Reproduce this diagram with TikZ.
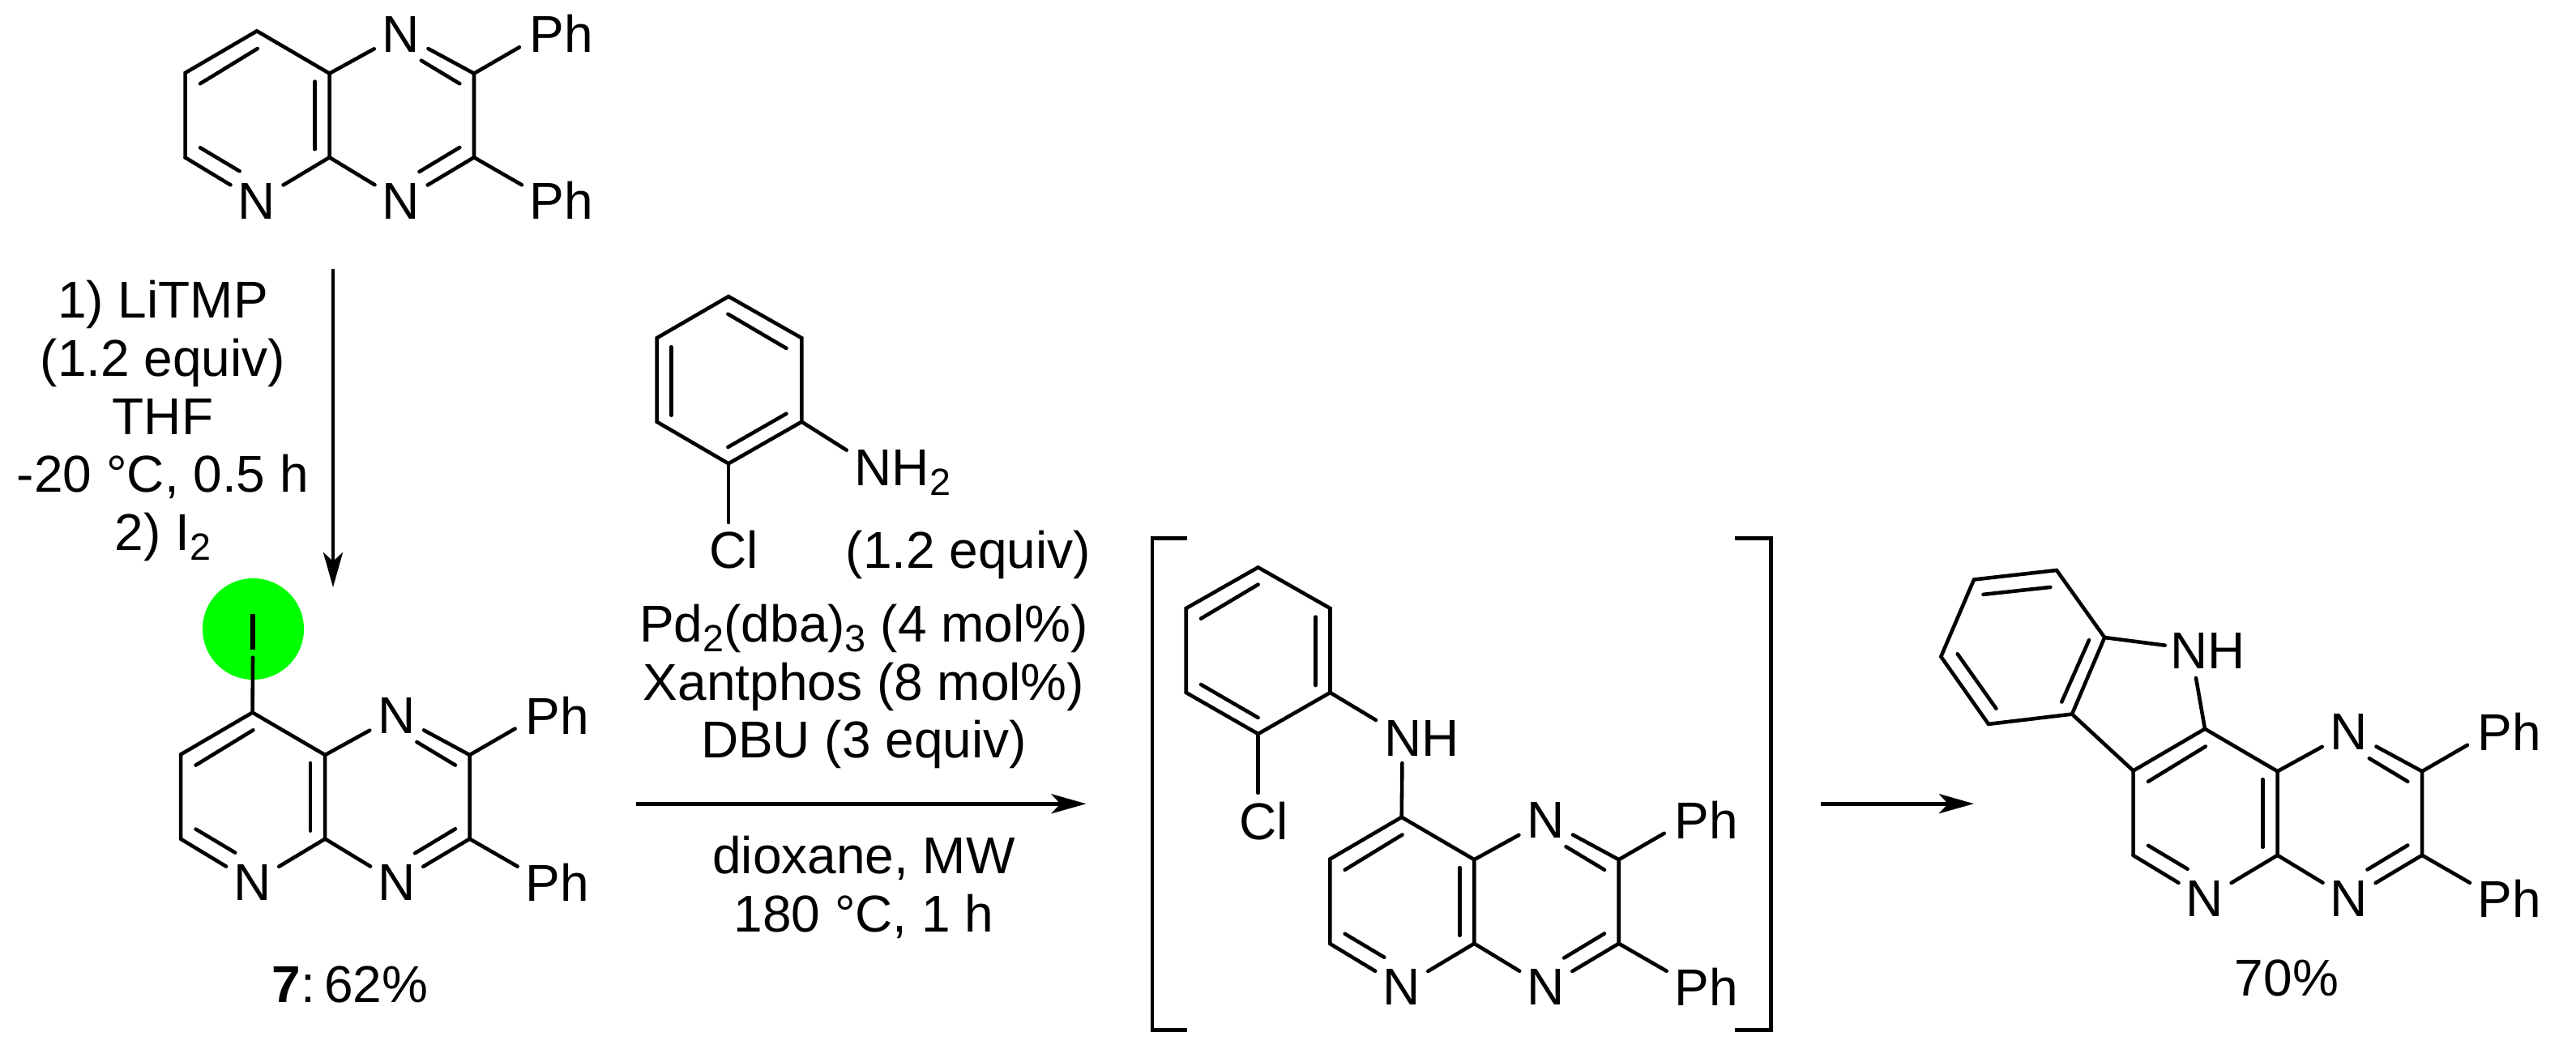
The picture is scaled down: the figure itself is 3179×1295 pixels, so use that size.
\documentclass[tikz,border=0pt]{standalone}
\usepackage{fontspec}
\setmainfont{Liberation Sans}
\usetikzlibrary{arrows.meta}

\definecolor{halo}{RGB}{0,255,0}
\newcommand{\lowtwo}[1]{\raisebox{-0.19em}{\fontsize{13.3}{13.3}\selectfont #1}}

% pyridopyrazine core, #1 = name prefix, (#2,#3) = shift
\newcommand{\pyrcore}[3]{
  \begin{scope}[shift={(#2,#3)}]
    \coordinate (#1c1) at (317,38.3);
    \coordinate (#1c2) at (228.6,90);
    \coordinate (#1c3) at (228.6,194.5);
    \coordinate (#1c4) at (406.6,194.3);
    \coordinate (#1c5) at (406.6,90.7);
    \coordinate (#1c6) at (585,90.7);
    \coordinate (#1c7) at (585,194.3);
    \coordinate (#1e1) at (641,58.3);
    \coordinate (#1e2) at (644,228.3);
    \node[atom] (#1n1) at (317,248) {N};
    \node[atom] (#1n2) at (495,248) {N};
    \node[atom] (#1n3) at (495,42) {N};
    \node[txt, anchor=base west] (#1ph1) at (653,65) {Ph};
    \node[txt, anchor=base west] (#1ph2) at (653,270.7) {Ph};
    % ring bonds
    \draw[bond] (#1c3) -- (#1c2) -- (#1c1) -- (#1c5) -- (#1c4);
    \draw[bond] (#1c3) -- (#1n1);
    \draw[bond] (#1c4) -- (#1n1);
    \draw[bond] (#1c5) -- (#1n3);
    \draw[bond] (#1c4) -- (#1n2);
    \draw[bond] (#1n3) -- (#1c6) -- (#1c7) -- (#1n2);
    \draw[bond] (#1c6) -- (#1e1);
    \draw[bond] (#1c7) -- (#1e2);
    % inner lines of the double bonds
    \draw[bond] (247,103.3) -- (317.8,60);
    \draw[bond] (247,182.3) -- (295.6,211.3);
    \draw[bond] (388.6,100.7) -- (388.6,184.3);
    \draw[bond] (519.8,74.7) -- (567.3,103.3);
    \draw[bond] (567.3,182) -- (517.5,212);
  \end{scope}
}

\begin{document}
\begin{tikzpicture}[
  x=0.01cm,
  y=-0.01cm,
  txt/.style={
    font=\fontsize{18.2}{20.37}\selectfont,
    inner sep=0pt,
    anchor=base
  },
  atom/.style={
    circle,
    font=\fontsize{18.2}{20.37}\selectfont,
    inner sep=0pt,
    outer sep=0pt,
    minimum size=0.76cm
  },
  bond/.style={
    line width=1.3pt,
    line cap=round,
    line join=miter
  },
  rxn/.style={
    line width=1.4pt,
    -{Stealth[length=0.43cm,width=0.24cm,inset=0.11cm]}
  },
  brk/.style={
    line width=1.3pt
  }
]
\useasboundingbox (0,0) rectangle (3179,1295);

% Starting material
\pyrcore{a}{0}{0}

% First arrow and conditions
\coordinate (a1s) at (411,332);
\coordinate (a1e) at (411,725);
\draw[rxn] (a1s) -- (a1e);
\node[txt, align=center] (cond1) at (201,679.3) {1) LiTMP\\(1.2 equiv)\\THF\\-20 °C, 0.5 h\\2) I\lowtwo{2}};

% Iodide 7
\node[circle, fill=halo, minimum size=1.25cm, inner sep=0pt] (spot) at (312.5,776.5) {};
\pyrcore{b}{-5.4}{841.3}
\node[txt] (iod) at (312,802.7) {I};
\coordinate (ibond) at (312,811.7);
\draw[bond] (bc1) -- (ibond);
\node[txt] (yield7) at (432,1237.3) {\textbf{7}:\hspace{0.17em}62\%};

% Chloroaniline
\coordinate (r1) at (899,366);
\coordinate (r2) at (989.3,417.3);
\coordinate (r3) at (989.3,520.7);
\coordinate (r4) at (899,572.3);
\coordinate (r5) at (810.6,520.7);
\coordinate (r6) at (810.6,417.3);
\coordinate (rn) at (1044.7,555.7);
\coordinate (rcl) at (899,645);
\draw[bond] (r1) -- (r2) -- (r3) -- (r4) -- (r5) -- (r6) -- cycle;
\draw[bond] (r3) -- (rn);
\draw[bond] (r4) -- (rcl);
\draw[bond] (898.4,387.7) -- (970.4,430);
\draw[bond] (828.4,428.3) -- (828.4,512.7);
\draw[bond] (970.4,510.7) -- (898.4,552);
\node[txt, anchor=base west] (nh2) at (1054,599.3) {NH\lowtwo{2}};
\node[txt] (cl1) at (905.7,701.7) {Cl};
\node[txt] (equiv) at (1195,701.7) {(1.2 equiv)};

% Second arrow and conditions
\node[txt, align=center] (cond2) at (1066,935.7) {Pd\lowtwo{2}(dba)\lowtwo{3} (4 mol\%)\\Xantphos (8 mol\%)\\DBU (3 equiv)};
\coordinate (a2s) at (785,992.3);
\coordinate (a2e) at (1340.5,992.3);
\draw[rxn] (a2s) -- (a2e);
\node[txt, align=center] (cond3) at (1066,1150) {dioxane, MW\\180 °C, 1 h};

% Intermediate in brackets
\draw[brk] (1465,664.5) -- (1421.8,664.5) -- (1421.8,1271.4) -- (1465,1271.4);
\draw[brk] (2141,664.5) -- (2185.4,664.5) -- (2185.4,1271.4) -- (2141,1271.4);
\pyrcore{c}{1412.7}{970.5}
\coordinate (s1) at (1552.6,700.4);
\coordinate (s2) at (1641.5,751);
\coordinate (s3) at (1641.5,855);
\coordinate (s4) at (1552.6,906);
\coordinate (s5) at (1463.7,855);
\coordinate (s6) at (1463.7,751);
\coordinate (sn) at (1698,889);
\coordinate (scl) at (1552.6,978.8);
\coordinate (cn) at (1730.4,942);
\draw[bond] (s1) -- (s2) -- (s3) -- (s4) -- (s5) -- (s6) -- cycle;
\draw[bond] (s3) -- (sn);
\draw[bond] (s4) -- (scl);
\draw[bond] (cn) -- (cc1);
\draw[bond] (1552.6,721.6) -- (1482,763.7);
\draw[bond] (1623.7,761.6) -- (1623.7,846);
\draw[bond] (1482,845) -- (1552.6,886);
\node[txt, anchor=base west] (nh3) at (1708,933) {NH};
\node[txt] (cl2) at (1559.6,1036.7) {Cl};

% Third arrow
\coordinate (a3s) at (2247,992.2);
\coordinate (a3e) at (2436,992.2);
\draw[rxn] (a3s) -- (a3e);

% Product
\pyrcore{d}{2404}{861.5}
\coordinate (t1) at (2436,715.5);
\coordinate (t2) at (2538,704);
\coordinate (t3) at (2597.2,787);
\coordinate (t4) at (2557,881.6);
\coordinate (t5) at (2453.9,893.9);
\coordinate (t6) at (2395.3,810.6);
\coordinate (tn) at (2671.7,796.7);
\coordinate (dn) at (2710,837);
\draw[bond] (t1) -- (t2) -- (t3) -- (t4) -- (t5) -- (t6) -- cycle;
\draw[bond] (t3) -- (tn);
\draw[bond] (t4) -- (dc2);
\draw[bond] (dn) -- (dc1);
\draw[bond] (2447.5,733.9) -- (2530.3,724.9);
\draw[bond] (2578,790.2) -- (2544.3,866.5);
\draw[bond] (2415.7,807.3) -- (2463.4,874.7);
\node[txt, anchor=base west] (nh4) at (2678,825.7) {NH};
\node[txt] (yield8) at (2822,1229.8) {70\%};
\end{tikzpicture}
\end{document}
